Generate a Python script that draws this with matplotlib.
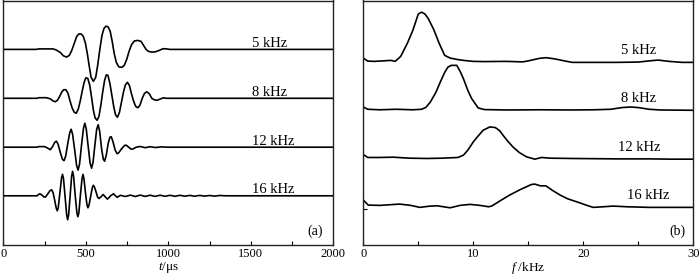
import matplotlib
matplotlib.use('Agg')
import matplotlib.pyplot as plt
from matplotlib.ticker import MultipleLocator

plt.rcParams['font.family'] = ['Liberation Serif', 'DejaVu Serif']
plt.rcParams['mathtext.fontset'] = 'custom'
plt.rcParams['mathtext.rm'] = 'Liberation Serif'
plt.rcParams['mathtext.it'] = 'Liberation Serif:italic'

# (a) time-domain waveforms, t in us, amplitude in a.u.
t_5k = [0, 200, 215, 300, 320, 345, 365, 384, 400, 415, 430, 445, 458, 472, 485, 498, 510, 520,
        532, 546, 560, 572, 585, 598, 610, 622, 636, 648, 660, 672, 685, 700, 718, 733, 748,
        762, 778, 795, 815, 835, 850, 865, 880, 900, 920, 945, 965, 980, 1000, 1010, 2000]
a_5k = [0, 0, 0.5, 0.5, -0.5, -3, -6.5, -7.7, -6, -1, 6, 13, 15.5, 15.5, 13, 6, -5, -16,
        -28, -32, -28, -16, 0, 14, 21, 23.3, 22.5, 18, 8, -4, -13, -17.5, -18, -16, -10,
        -2, 5, 8.5, 9, 8, 4, 0, -2, -2.7, -2.5, -1, 0.5, 0.7, 0.2, 0, 0]

t_8k = [0, 205, 215, 260, 285, 300, 315, 328, 342, 355, 367, 380, 392, 405, 418, 430, 442, 454,
        466, 478, 490, 500, 512, 524, 535, 546, 556, 568, 580, 592, 603, 614, 624, 634, 646,
        658, 670, 680, 692, 704, 716, 728, 740, 752, 764, 776, 790, 802, 815, 828, 842, 856,
        870, 885, 900, 915, 932, 950, 970, 990, 2000]
a_8k = [0, 0, 0.6, 0.6, -0.5, -2.5, -3.5, -2, 2, 6.5, 8.7, 8.5, 5, -3, -10, -14, -15, -11,
        -3, 7, 16, 20.5, 20, 13, 1, -12, -19.5, -22, -18, -6, 7, 18, 23.5, 23, 15,
        3, -9, -16.5, -19, -14, -4, 6, 13.5, 16, 13, 5, -3, -8, -9.5, -7, 0, 5,
        6.5, 4.5, 0, -1.5, -2, -0.8, 0.5, 0, 0]

t_12k = [0, 205, 215, 250, 270, 285, 300, 312, 322, 332, 345, 358, 368, 378, 390, 402, 411, 420,
         432, 444, 453, 462, 474, 486, 494, 503, 515, 526, 535, 544, 555, 566, 575, 584, 596,
         606, 614, 624, 636, 646, 654, 664, 678, 690, 700, 715, 735, 745, 760, 775, 790, 805,
         830, 860, 890, 920, 960, 1000, 2000]
a_12k = [0, 0, 0.6, 0.6, -1, -2.5, 1, 5, 6, 3, -5, -12, -13.5, -9, 3, 14, 18, 13,
         -2, -18, -23, -17, 2, 19, 24, 18, 0, -16, -21, -15, 2, 18, 22.5, 16, -2,
         -12, -14, -8, 4, 10, 10.5, 6, -3, -6.5, -5.5, -2, 1.8, 2, 0, -2, -1.5, 0,
         0.7, -0.5, 0.5, -0.3, 0.3, 0, 0]

t_16k = [0, 205, 215, 222, 232, 245, 255, 268, 282, 293, 302, 312, 321, 327, 333, 343, 353, 359,
         365, 374, 384, 390, 396, 405, 414, 420, 426, 436, 446, 452, 458, 467, 477, 483, 489,
         498, 507, 513, 520, 530, 540, 546, 552, 562, 572, 580, 592, 605, 618, 630, 640, 650,
         668, 680, 690, 710, 740, 770, 800, 830, 860, 890, 920, 950, 980, 1010, 1040, 1070,
         1100, 1130, 1160, 1190, 1220, 1250, 1280, 1310, 1350, 2000]
a_16k = [0, 0, 1.5, 2, 1, -1, -1.3, 1.5, 5, 6, 3, -5, -12.5, -15, -12, 3, 18, 21.5,
         17, 0, -19, -24, -19, 0, 19.5, 24.5, 19.5, 0, -17, -21, -17, 0, 17, 21.5, 17,
         3, -9, -12, -9, 0, 8.5, 10.5, 9, 4, -1.5, -2.7, -1, 1.3, -1, -3.3, -2, 0,
         2, 0, -1.5, 0.5, -0.7, 0.7, -0.7, 0.7, -0.6, 0.6, -0.6, 0.6, -0.5, 0.5, -0.5, 0.5,
         -0.4, 0.4, -0.4, 0.4, -0.3, 0.3, -0.3, 0.3, 0, 0]

# (b) spectra, f in kHz
f_5k = [0, 0.4, 1.0, 1.8, 2.5, 2.9, 3.4, 4.0, 4.5, 5.0, 5.3, 5.6, 5.9, 6.4, 6.9, 7.4, 7.9, 8.5,
        9.1, 10, 11, 13, 14.5, 15, 16, 16.6, 17.4, 18.5, 19, 21, 23, 25, 26, 26.8, 27.8, 29, 30]
s_5k = [4.3, 1.3, 1, 1.5, 2, 1, 6, 19, 32, 48.5, 50.3, 48.5, 44, 33, 19, 7, 4.3, 3,
        2, 1, 0.8, 1, 0.5, 1.5, 4, 4.7, 3.5, 1, 0, 0, 0, 0.3, 1.5, 2.3, 1, 0, 0]

f_8k = [0, 0.4, 1.5, 3, 4.5, 5.3, 5.7, 6.1, 6.6, 7.0, 7.4, 7.7, 8.0, 8.5, 8.8, 9.1, 9.5, 9.85,
        10.45, 11, 13, 16, 19, 21, 22.5, 23.5, 24.3, 25, 26, 27, 30]
s_8k = [3.3, 1, 0.5, 1, 0.5, 1, 3, 8.3, 18, 28.3, 38, 43.3, 45, 45, 39, 31.7, 20, 11.7,
        2.3, 0.7, 0.3, 0.5, 0.3, 0.5, 1, 2.7, 3.3, 2.7, 1, 0.3, 0]

f_12k = [0, 0.4, 1.5, 2.7, 4.2, 5.8, 7.2, 8.6, 9.1, 9.5, 10, 10.5, 10.9, 11.5, 12.0, 12.4, 12.7,
         13.1, 13.6, 14.2, 14.85, 15.6, 16.2, 17, 19, 21, 23, 26, 28, 30]
s_12k = [4.7, 1.7, 1.7, 2, 1, 0.7, 1, 1.7, 4, 9, 17.3, 24, 29, 32.3, 31.7, 28.5, 24,
         18.5, 12.3, 6.5, 2.3, 0, 1.7, 1, 0.7, 0.5, 0.3, 0.3, 0, 0]

f_16k = [0, 0.45, 1.5, 3.3, 4.3, 5.15, 6.0, 6.7, 7.9, 8.8, 9.7, 10.6, 11.4, 11.7, 12.5, 13.3,
         14.3, 15.3, 15.6, 16.1, 16.6, 17.2, 17.9, 18.6, 19.4, 20.2, 20.9, 21.8, 22.7, 24, 26,
         28, 30]
s_16k = [7.3, 2.3, 2, 3.3, 2, 0, 1.2, 1.6, -0.4, 2, 3, 2, 0.6, 1.5, 7, 12.3,
         18, 23, 23.3, 21.6, 21.6, 17, 12.3, 8.5, 5.6, 2.5, 0, 0.6, 1.3, 0.6, 0,
         0, 0]

labels = ['5 kHz', '8 kHz', '12 kHz', '16 kHz']
offsets_t = [196, 147, 98, 49.3]
offsets_f = [183, 135, 86, 37.7]
label_x_t = [1507, 1507, 1507, 1507]
label_x_f = [23.4, 23.4, 23.2, 24.0]

fig = plt.figure(figsize=(7.0, 2.76), dpi=100)
ax1 = fig.add_axes([3.3 / 700, 31 / 276, 330 / 700, 244.5 / 276])
ax2 = fig.add_axes([363.3 / 700, 31 / 276, 330 / 700, 244.5 / 276])

waves = [(t_5k, a_5k), (t_8k, a_8k), (t_12k, a_12k), (t_16k, a_16k)]
for (t, a), off, lab, lx in zip(waves, offsets_t, labels, label_x_t):
    ax1.plot(t, [v + off for v in a], '-', lw=1.2, color='k')
    ax1.text(lx, off + 2.5, lab, fontsize=10.5, va='baseline', ha='left')

specs = [(f_5k, s_5k), (f_8k, s_8k), (f_12k, s_12k), (f_16k, s_16k)]
for (f, s), off, lab, lx in zip(specs, offsets_f, labels, label_x_f):
    ax2.plot(f, [v + off for v in s], '-', lw=1.2, color='k')
    ax2.text(lx, off + 8, lab, fontsize=10.5, va='baseline', ha='left')

ax1.set_xlim(0, 2000)
ax1.xaxis.set_major_locator(MultipleLocator(500))
ax1.xaxis.set_minor_locator(MultipleLocator(250))
ax1.set_xlabel('$t$/μs', fontsize=9.5)
ax1.text(0.969, 0.03, '(a)', transform=ax1.transAxes, fontsize=10, ha='right', va='bottom')

ax2.set_xlim(0, 30)
ax2.xaxis.set_major_locator(MultipleLocator(10))
ax2.xaxis.set_minor_locator(MultipleLocator(5))
ax2.set_xlabel('$f$ /kHz', fontsize=9.5)
ax2.text(0.975, 0.03, '(b)', transform=ax2.transAxes, fontsize=10, ha='right', va='bottom')

for ax in (ax1, ax2):
    ax.set_ylim(0, 245)
    ax.set_yticks([])
    ax.tick_params(axis='x', which='both', direction='in', labelsize=9, width=0.8,
                   length=3, pad=2)
    ax.xaxis.set_label_coords(0.5, -0.061)
    for sp in ax.spines.values():
        sp.set_linewidth(1.0)
        sp.set_color('#222222')

# short stray tick on the left of panel (b)
ax2.set_yticks([36.3])
ax2.tick_params(axis='y', direction='in', length=3, labelleft=False, width=0.8)

fig.savefig('out.png', dpi=100)
